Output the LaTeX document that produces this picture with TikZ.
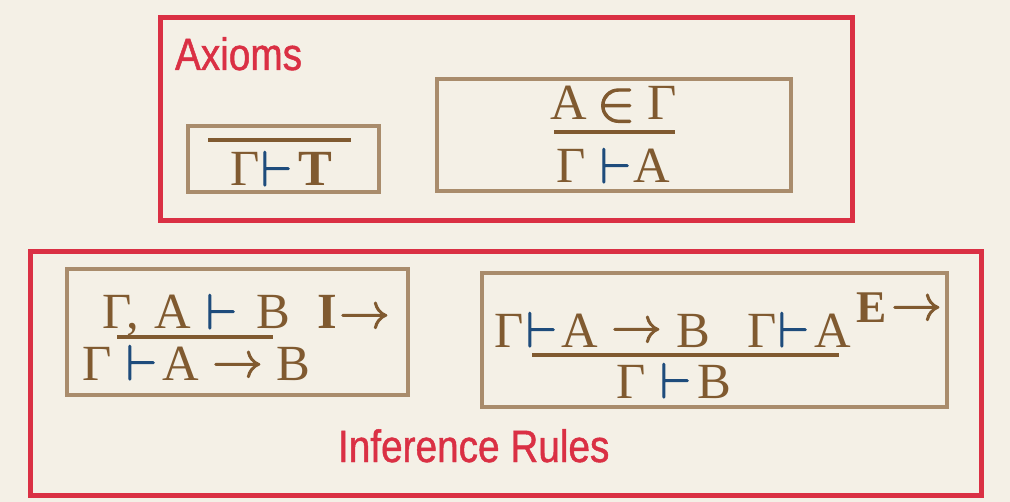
\documentclass[tikz,border=0pt]{standalone}
\usepackage{fontspec}
\usepackage{unicode-math}
\setmathfont{Latin Modern Math}[FakeBold=2]
\newfontfamily\labelfont[FakeStretch=0.855,FakeBold=1]{Liberation Sans}
\newfontfamily\glyphfont{Liberation Serif}
\definecolor{paper}{RGB}{244,240,230}
\definecolor{ink}{RGB}{128,90,48}
\definecolor{tanline}{RGB}{169,140,108}
\definecolor{crimson}{RGB}{218,48,68}
\definecolor{tblue}{RGB}{30,76,124}
\begin{document}
\begin{tikzpicture}[x=0.75pt,y=-0.75pt,
  sym/.style={anchor=base west,inner sep=0pt,outer sep=0pt,text=ink,font=\glyphfont\fontsize{38}{42}\selectfont},
  turn/.style={sym,text=tblue},
  small/.style={sym,font=\glyphfont\fontsize{34}{37}\selectfont},
  big/.style={sym,font=\glyphfont\fontsize{43}{46}\selectfont},
  tbox/.style={draw=tanline,line width=3pt},
  rbox/.style={draw=crimson,line width=3.75pt},
  bar/.style={draw=ink,line width=3pt},
  title/.style={anchor=base west,inner sep=0pt,outer sep=0pt,text=crimson,font=\labelfont\fontsize{34}{38}\selectfont}]
\useasboundingbox (0,0) rectangle (1010,502);
\fill[paper] (0,0) rectangle (1010,502);

% red frames
\draw[rbox] (160,17.5) rectangle (852.5,220.5);
\draw[rbox] (30.7,251.5) rectangle (981.5,495);
\node[title] (axioms) at (175,70) {Axioms};
\node[title] (infer) at (338,462) {Inference Rules};

% tan frames
\draw[tbox] (188,126) rectangle (379,192);
\draw[tbox] (437,79) rectangle (791,191);
\draw[tbox] (67,269) rectangle (408,395);
\draw[tbox] (482,273) rectangle (947,407);

% box 1
\coordinate (b1l) at (208,140); \coordinate (b1r) at (351,140);
\draw[bar] (b1l) -- (b1r);
\node[sym] (b1g) at (230,186) {Γ};
\node[turn] (b1t) at (261,186) {$\vdash$};
\node[sym] (b1T) at (298,186) {\bfseries T};

% box 2
\node[sym] (b2a) at (550,120) {A};
\node[big] (b2in) at (597,120) {$\in$};
\node[sym] (b2g) at (647,120) {Γ};
\coordinate (b2l) at (554,132); \coordinate (b2r) at (675,132);
\draw[bar] (b2l) -- (b2r);
\node[sym] (b2g2) at (556,183) {Γ};
\node[turn] (b2t) at (600,183) {$\vdash$};
\node[sym] (b2a2) at (633,183) {A};

% box 3
\node[sym] (b3g) at (102,329) {Γ};
\node[sym] (b3c) at (126,329) {,};
\node[sym] (b3a) at (154,329) {A};
\node[turn] (b3t) at (206,329) {$\vdash$};
\node[sym] (b3b) at (256,329) {B};
\node[sym] (b3I) at (317,329) {\bfseries I};
\node[sym] (b3ar) at (339,328) {$\rightarrow$};
\coordinate (b3l) at (117,337); \coordinate (b3r) at (273,337);
\draw[bar] (b3l) -- (b3r);
\node[sym] (b3g2) at (82,380) {Γ};
\node[turn] (b3t2) at (126,380) {$\vdash$};
\node[sym] (b3a2) at (162,380) {A};
\node[sym] (b3ar2) at (212,377) {$\rightarrow$};
\node[sym] (b3b2) at (276,380) {B};

% box 4
\node[sym] (b4g) at (494,347) {Γ};
\node[turn] (b4t) at (526,347) {$\vdash$};
\node[sym] (b4a) at (561,347) {A};
\node[sym] (b4ar) at (611,342) {$\rightarrow$};
\node[sym] (b4b) at (676,347) {B};
\node[sym] (b4g2) at (747,347) {Γ};
\node[turn] (b4t2) at (778,347) {$\vdash$};
\node[sym] (b4a2) at (814,347) {A};
\node[small] (b4E) at (856,322) {\bfseries E};
\node[sym] (b4ar3) at (891,320) {$\rightarrow$};
\coordinate (b4l) at (532,355); \coordinate (b4r) at (839,355);
\draw[bar] (b4l) -- (b4r);
\node[sym] (b4g3) at (616,398) {Γ};
\node[turn] (b4t3) at (660,398) {$\vdash$};
\node[sym] (b4b3) at (697,398) {B};
\end{tikzpicture}
\end{document}
